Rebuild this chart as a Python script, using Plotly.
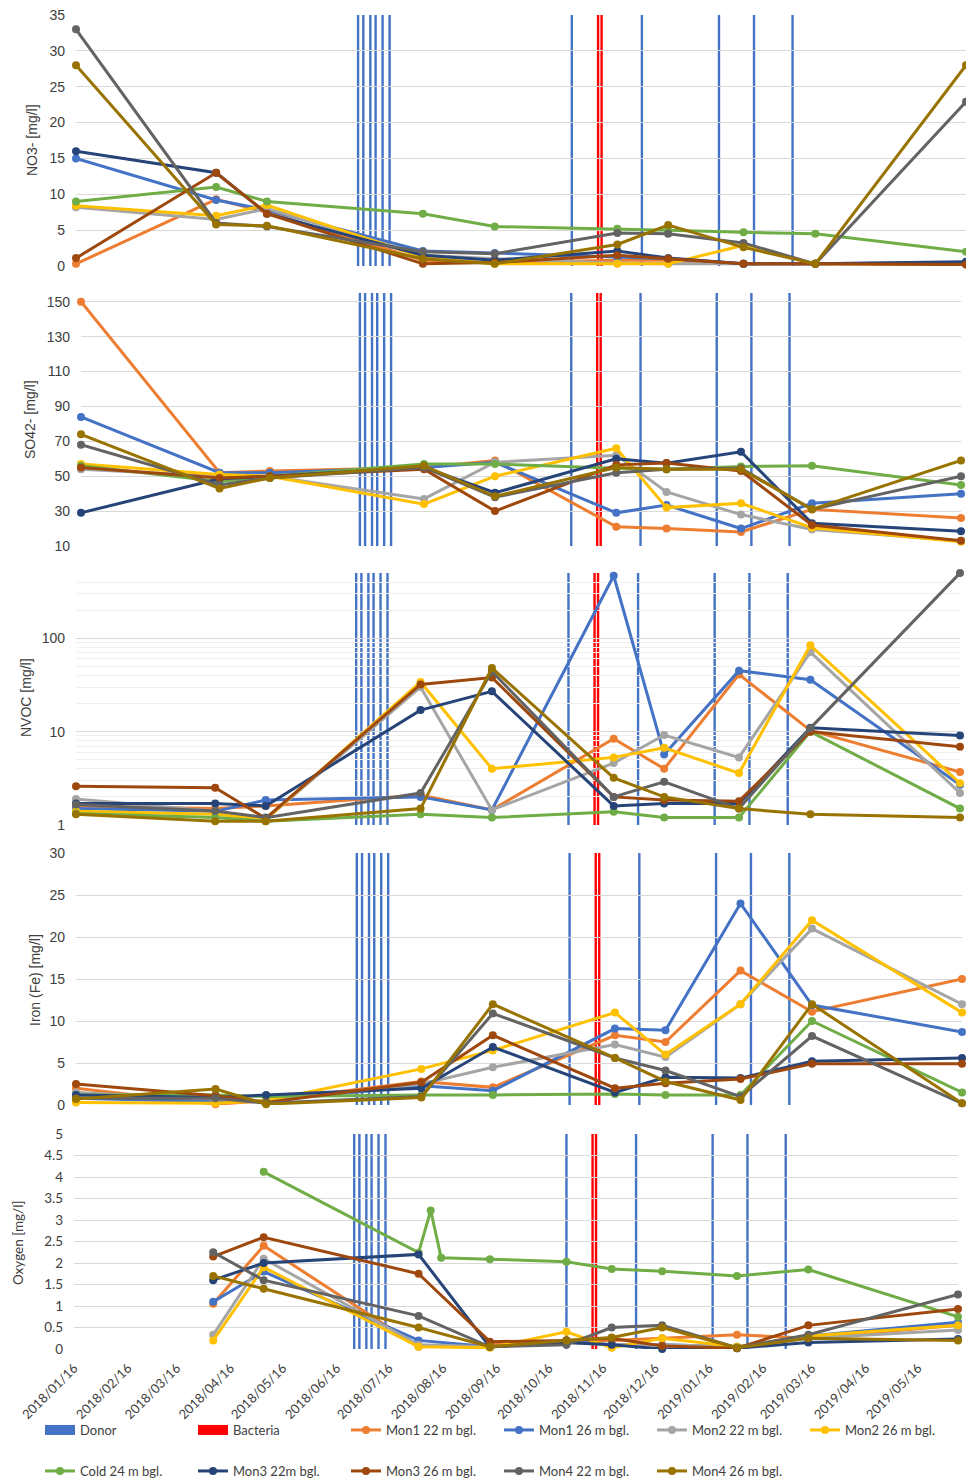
import math
import plotly.graph_objects as go
from plotly.subplots import make_subplots

# ---------------- data ----------------
dates = ["2018-01-16", "2018-04-06", "2018-05-05", "2018-08-02", "2018-09-12",
         "2018-11-21", "2018-12-20", "2019-02-01", "2019-03-14", "2019-06-08"]
oxy_dates = ["2018-04-06", "2018-05-05", "2018-08-02", "2018-08-09", "2018-08-15",
             "2018-09-12", "2018-10-26", "2018-11-21", "2018-12-20", "2019-02-01",
             "2019-03-14", "2019-06-08"]
donor_dates = ["2018-06-26", "2018-06-29", "2018-07-03", "2018-07-06", "2018-07-10",
               "2018-07-14", "2018-10-26", "2018-12-05", "2019-01-18", "2019-02-07",
               "2019-03-01"]
bacteria_dates = ["2018-11-10", "2018-11-12"]

series = ["Mon1 22 m bgl.", "Mon1 26 m bgl.", "Mon2 22 m bgl.", "Mon2 26 m bgl.",
          "Cold 24 m bgl.", "Mon3 22m bgl.", "Mon3 26 m bgl.", "Mon4 22 m bgl.",
          "Mon4 26 m bgl."]
colors = ["#ED7D31", "#4472C4", "#A5A5A5", "#FFC000", "#70AD47",
          "#264478", "#9E480E", "#636363", "#997300"]

no3 = {
    "Mon1 22 m bgl.": [0.3, 9.3, 7.5, 0.8, 0.5, 0.8, 0.8, 0.3, 0.3, 0.2],
    "Mon1 26 m bgl.": [15, 9.2, 7.8, 2.1, 1.8, 1.2, 1.0, 0.3, 0.3, 0.5],
    "Mon2 22 m bgl.": [8.2, 6.5, 8.0, 1.5, 1.0, 0.4, 0.3, 0.3, 0.3, 0.3],
    "Mon2 26 m bgl.": [8.4, 7.0, 8.5, 1.2, 0.3, 0.3, 0.3, 2.9, 0.3, 0.3],
    "Cold 24 m bgl.": [9, 11, 9, 7.3, 5.5, 5.2, 5.0, 4.7, 4.5, 2.0],
    "Mon3 22m bgl.": [16, 13, 7.3, 1.5, 0.8, 2.1, 1.1, 0.3, 0.3, 0.6],
    "Mon3 26 m bgl.": [1.1, 13, 7.3, 0.3, 0.5, 1.5, 1.0, 0.3, 0.3, 0.2],
    "Mon4 22 m bgl.": [33, 6.0, 5.5, 2.0, 1.7, 4.6, 4.5, 3.2, 0.3, 22.9],
    "Mon4 26 m bgl.": [28, 5.8, 5.6, 1.0, 0.3, 3.0, 5.7, 2.6, 0.3, 28],
}
so4 = {
    "Mon1 22 m bgl.": [150, 52, 53, 55, 59, 21, 20, 18, 31, 26],
    "Mon1 26 m bgl.": [84, 52, 52, 55, 58, 29, 33.5, 20, 34.5, 40],
    "Mon2 22 m bgl.": [54, 50, 50, 37, 58, 62, 41, 28, 19.5, 13],
    "Mon2 26 m bgl.": [57, 51, 50, 34, 50, 66, 32, 34.5, 20.5, 12.5],
    "Cold 24 m bgl.": [56, 47, 50, 57, 57, 54.5, 54, 55.5, 56, 45],
    "Mon3 22m bgl.": [29, 48.5, 50, 55, 40.5, 60, 57.5, 64, 23, 18.5],
    "Mon3 26 m bgl.": [55, 49, 50, 54, 30, 56.5, 57.5, 53, 22, 13],
    "Mon4 22 m bgl.": [68, 45, 49, 55, 38, 52, 54, 54.5, 31, 50],
    "Mon4 26 m bgl.": [74, 43, 49, 56, 38.5, 55, 54, 54, 31, 59],
}
nvoc = {
    "Mon1 22 m bgl.": [1.6, 1.5, 1.6, 2.1, 1.45, 8.4, 4.0, 41, 10.3, 3.7],
    "Mon1 26 m bgl.": [1.5, 1.4, 1.85, 2.0, 1.45, 467, 5.7, 45, 36, 2.7],
    "Mon2 22 m bgl.": [1.9, 1.4, 1.15, 30, 1.45, 4.6, 9.2, 5.3, 71, 2.2],
    "Mon2 26 m bgl.": [1.4, 1.3, 1.15, 34, 4.0, 5.3, 6.7, 3.6, 84, 2.8],
    "Cold 24 m bgl.": [1.33, 1.2, 1.1, 1.3, 1.2, 1.39, 1.2, 1.2, 10, 1.5],
    "Mon3 22m bgl.": [1.7, 1.7, 1.6, 17, 27, 1.6, 1.7, 1.7, 11, 9.1],
    "Mon3 26 m bgl.": [2.6, 2.5, 1.18, 32, 38, 2.0, 1.85, 1.8, 10, 6.9],
    "Mon4 22 m bgl.": [1.66, 1.41, 1.2, 2.2, 44, 2.0, 2.9, 1.5, 10.9, 500],
    "Mon4 26 m bgl.": [1.3, 1.1, 1.1, 1.5, 48, 3.2, 2.0, 1.5, 1.3, 1.2],
}
iron = {
    "Mon1 22 m bgl.": [2.0, 0.1, 0.5, 2.8, 2.1, 8.3, 7.5, 16, 11.1, 15],
    "Mon1 26 m bgl.": [0.8, 0.4, 0.5, 2.3, 1.7, 9.1, 8.9, 24, 11.9, 8.7],
    "Mon2 22 m bgl.": [1.5, 0.7, 0.5, 2.5, 4.5, 7.2, 5.7, 12, 21, 12],
    "Mon2 26 m bgl.": [0.3, 0.2, 0.5, 4.3, 6.5, 11, 6.0, 12, 22, 11],
    "Cold 24 m bgl.": [1.2, 1.2, 1.0, 1.2, 1.2, 1.3, 1.2, 1.2, 10, 1.5],
    "Mon3 22m bgl.": [1.2, 0.9, 1.2, 2.0, 6.9, 1.5, 3.3, 3.2, 5.2, 5.6],
    "Mon3 26 m bgl.": [2.5, 1.1, 0.3, 2.7, 8.3, 2.0, 2.6, 3.1, 4.9, 4.9],
    "Mon4 22 m bgl.": [0.8, 0.8, 0.2, 1.0, 10.9, 5.6, 4.1, 1.0, 8.2, 0.2],
    "Mon4 26 m bgl.": [0.7, 1.9, 0.1, 0.9, 12, 5.6, 2.8, 0.6, 12, 0.2],
}
oxygen = {
    "Mon1 22 m bgl.": [1.05, 2.4, 0.05, None, None, 0.1, 0.2, 0.2, 0.25, 0.33, 0.25, 0.55],
    "Mon1 26 m bgl.": [1.1, 1.8, 0.2, None, None, 0.05, 0.2, 0.1, 0.1, 0.05, 0.3, 0.62],
    "Mon2 22 m bgl.": [0.33, 2.1, 0.1, None, None, 0.05, 0.15, 0.1, 0.1, 0.05, 0.25, 0.44],
    "Mon2 26 m bgl.": [0.2, 1.9, 0.05, None, None, 0.03, 0.4, 0.03, 0.25, 0.05, 0.3, 0.55],
    "Cold 24 m bgl.": [None, 4.12, 2.24, 3.22, 2.12, 2.09, 2.03, 1.86, 1.81, 1.70, 1.85, 0.75],
    "Mon3 22m bgl.": [1.6, 2.0, 2.2, None, None, 0.05, 0.15, 0.1, 0.0, 0.02, 0.15, 0.23],
    "Mon3 26 m bgl.": [2.15, 2.6, 1.75, None, None, 0.17, 0.2, 0.25, 0.07, 0.02, 0.55, 0.93],
    "Mon4 22 m bgl.": [2.25, 1.6, 0.77, None, None, 0.05, 0.1, 0.5, 0.55, 0.03, 0.33, 1.27],
    "Mon4 26 m bgl.": [1.7, 1.4, 0.5, None, None, 0.05, 0.2, 0.27, 0.5, 0.03, 0.25, 0.2],
}

y_titles = ["NO3- [mg/l]", "SO42- [mg/l]", "NVOC [mg/l]", "Iron (Fe) [mg/l]", "Oxygen [mg/l]"]
x_start, x_end = "2018-01-16", "2019-06-08"

# ---------------- layout geometry (pixels, measured from top-left) ----------------
W, H = 966, 1482
panels_px = [  # (left, right, top, bottom)
    (76, 966, 15, 266),
    (81, 961, 293, 546),
    (76, 960, 573, 825),
    (76, 962, 853, 1105),
    (74, 958, 1134, 1349),
]
title_pos = [(32, 140), (30, 420), (26, 698), (35, 980), (18, 1243)]
legend_rows_y = [1430, 1471]

ARIAL = "Liberation Sans, Arial, sans-serif"
CALIBRI = "Lato, Carlito, Calibri, sans-serif"
TXT = "#404040"
GRID = "#D9D9D9"

fig = make_subplots(rows=5, cols=1)

panel_data = [(dates, no3), (dates, so4), (dates, nvoc), (dates, iron), (oxy_dates, oxygen)]

# legend-only entries for vertical markers (thick line icon looks like a filled block)
fig.add_trace(go.Scatter(x=[None], y=[None], name="Donor", mode="lines",
                         line=dict(color="#4472C4", width=12),
                         showlegend=True, legend="legend"), row=1, col=1)
fig.add_trace(go.Scatter(x=[None], y=[None], name="Bacteria", mode="lines",
                         line=dict(color="#FF0000", width=12),
                         showlegend=True, legend="legend"), row=1, col=1)

for p, (xd, dat) in enumerate(panel_data):
    for i, s in enumerate(series):
        leg = "legend" if i < 4 else "legend2"
        fig.add_trace(go.Scatter(
            x=xd, y=dat[s], name=s, mode="lines+markers",
            line=dict(color=colors[i], width=3),
            marker=dict(color=colors[i], size=8),
            connectgaps=True, cliponaxis=False,
            legendgroup=s, showlegend=(p == 0), legend=leg,
        ), row=p + 1, col=1)

# vertical lines for donor / bacteria injections
for p in range(5):
    xref = "x" if p == 0 else f"x{p + 1}"
    yref = "y domain" if p == 0 else f"y{p + 1} domain"
    for d in donor_dates:
        fig.add_shape(type="line", x0=d, x1=d, y0=0, y1=1, xref=xref, yref=yref,
                      line=dict(color="#4472C4", width=2.4), layer="below")
    for d in bacteria_dates:
        fig.add_shape(type="line", x0=d, x1=d, y0=0, y1=1, xref=xref, yref=yref,
                      line=dict(color="#FF0000", width=2.4), layer="below")

# axes
for p, (l, r, t, b) in enumerate(panels_px):
    xa = "xaxis" if p == 0 else f"xaxis{p + 1}"
    ya = "yaxis" if p == 0 else f"yaxis{p + 1}"
    last = (p == 4)
    fig.layout[xa].update(
        domain=[l / W, r / W], type="date", range=[x_start, x_end],
        showgrid=False, zeroline=False, showline=False, automargin=False,
        showticklabels=last, ticks="", ticklabelstandoff=8,
        tick0="2018-01-16", dtick="M1", tickformat="%Y/%m/%d", tickangle=-45,
        tickfont=dict(family=CALIBRI, size=13, color=TXT),
    )
    fig.layout[ya].update(
        domain=[1 - b / H, 1 - t / H], automargin=False, zeroline=False,
        showline=False, gridcolor=GRID, gridwidth=1, ticks="",
        ticklabelstandoff=10,
        tickfont=dict(family=CALIBRI if last else ARIAL, size=13.5 if last else 14, color=TXT),
    )

fig.layout.yaxis.update(range=[0, 35], tick0=0, dtick=5)
fig.layout.yaxis2.update(range=[10, 155], tick0=10, dtick=20)
fig.layout.yaxis3.update(type="log", range=[0, math.log10(500)], dtick=1,
                         minor=dict(showgrid=True, gridcolor="#EFEFEF", dtick="D1", ticks=""))
fig.layout.yaxis4.update(range=[0, 30], tick0=0, dtick=5)
fig.layout.yaxis5.update(range=[0, 5], tick0=0, dtick=0.5)

for p, (tx, ty) in enumerate(title_pos):
    fig.add_annotation(
        text=y_titles[p], x=tx / W, y=1 - ty / H, xref="paper", yref="paper",
        textangle=-90, showarrow=False, xanchor="center", yanchor="middle",
        font=dict(family=CALIBRI if p == 4 else ARIAL, size=13.5 if p == 4 else 14, color=TXT),
    )

legend_common = dict(orientation="h", xref="container", yref="container",
                     xanchor="left", yanchor="middle",
                     entrywidth=108, entrywidthmode="pixels", traceorder="normal",
                     font=dict(family=CALIBRI, size=13, color=TXT),
                     bgcolor="rgba(0,0,0,0)")
fig.update_layout(
    width=W, height=H,
    margin=dict(l=0, r=0, t=0, b=0, autoexpand=False),
    paper_bgcolor="white", plot_bgcolor="white",
    legend=dict(x=40 / W, y=1 - legend_rows_y[0] / H, **legend_common),
    legend2=dict(x=40 / W, y=1 - legend_rows_y[1] / H, **legend_common),
)

page_fix = (
    "document.documentElement.style.margin='0';"
    "document.body.style.margin='0';"
    "document.body.style.padding='0';"
)
fig.write_html("out.html", config={"displayModeBar": False}, post_script=page_fix)
